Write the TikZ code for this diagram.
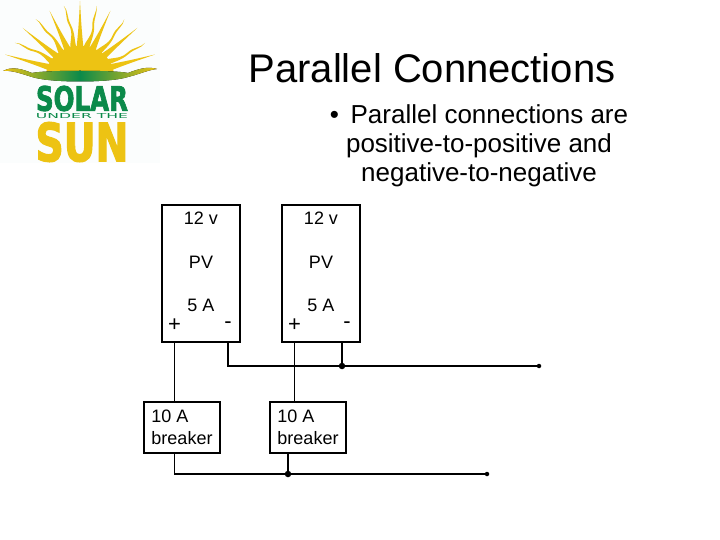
\documentclass[tikz,border=0pt]{standalone}
\usepackage{graphicx}
\usepackage{fontspec}
\setmainfont{Liberation Sans}
\newfontfamily\logofont{DejaVu Sans}
\newfontfamily\logoheavy[FakeBold=2.5]{DejaVu Sans Bold}
\usetikzlibrary{calc}
\definecolor{sunyellow}{HTML}{EDC313}
\definecolor{sungreen}{HTML}{0B8A4A}
\definecolor{logoback}{HTML}{FBFDFD}
\tikzset{
    every picture/.style={x=1pt,y=-1pt},
    panelbox/.style={draw,line width=1.7pt,minimum width=78pt,minimum height=137pt,inner sep=0pt},
    breakerbox/.style={draw,line width=1.7pt,minimum width=76pt,minimum height=51pt,inner sep=0pt,
        align=left,font=\fontsize{18}{22}\selectfont},
    boxlabel/.style={inner sep=0pt,font=\fontsize{18}{22}\selectfont},
    signlabel/.style={inner sep=0pt,font=\fontsize{22}{22}\selectfont},
    thinwire/.style={line width=0.9pt},
    thickwire/.style={line width=1.6pt},
    junction/.style={circle,fill=black,inner sep=0pt,minimum size=6.5pt},
    wireend/.style={circle,fill=black,inner sep=0pt,minimum size=4.5pt},
}
\newcommand{\straightray}[2]{%
    \fill[sunyellow,shift={(80,76)},rotate=#1] (-3.5,-28)
        .. controls (-1.6,-0.6*#2) and (-0.8,-0.8*#2) .. (0,-#2)
        .. controls (0.8,-0.8*#2) and (1.6,-0.6*#2) .. (3.5,-28) -- cycle;}
\newcommand{\wavyray}[2]{%
    \fill[sunyellow,shift={(80,76)},rotate=#1] (-3,-28)
        .. controls (-3,-0.5*#2) and (3.5,-0.58*#2) .. (0.8,-0.72*#2)
        .. controls (-1.8,-0.84*#2) and (2.5,-0.92*#2) .. (0,-#2)
        .. controls (3.4,-0.92*#2) and (0.2,-0.84*#2) .. (2.6,-0.72*#2)
        .. controls (5,-0.58*#2) and (2.2,-0.5*#2) .. (3,-28) -- cycle;}

\begin{document}
\begin{tikzpicture}
    \useasboundingbox (0,0) rectangle (720,540);
    \fill[white] (0,0) rectangle (720,540);

    % logo
    \fill[logoback] (0,0) rectangle (160,163);
    \straightray{0}{75}
    \foreach \ang/\len in {25/72,50/75,74/78,-25/72,-50/75,-74/78} {
        \straightray{\ang}{\len}
    }
    \foreach \ang/\len in {13/72,38/72,63/73,-13/72,-38/72,-63/73} {
        \wavyray{\ang}{\len}
    }
    \begin{scope}
        \clip (0,0) rectangle (160,76);
        \fill[sunyellow] (80,76) ellipse (34 and 30);
    \end{scope}
    \fill[left color=sunyellow,right color=sunyellow,middle color=sungreen]
        (3,71) .. controls (12,66) and (22,69) .. (32,73)
        .. controls (45,70) and (115,70) .. (128,73)
        .. controls (138,69) and (148,66) .. (157,69)
        .. controls (148,70) and (140,74) .. (128,77)
        .. controls (110,83) and (50,83) .. (32,77)
        .. controls (22,74) and (12,70) .. cycle;
    \node[inner sep=0pt,text=sungreen] (solar) at (82,98.5)
        {\resizebox{92pt}{25pt}{\logoheavy SOLAR}};
    \node[inner sep=0pt,text=sungreen] (under) at (82,116)
        {\resizebox{92pt}{5pt}{\logofont UNDER THE}};
    \node[inner sep=0pt,text=sunyellow] (sun) at (82,142)
        {\resizebox{93pt}{39pt}{\logoheavy SUN}};

    % title and text
    \node[inner sep=0pt,font=\fontsize{40}{44}\selectfont] (title) at (432,68) {Parallel Connections};
    \node[inner sep=0pt,align=center,font=\fontsize{26}{29}\selectfont] (bullet) at (479,146)
        {•\hspace{0.45em}Parallel connections are\\positive-to-positive and\\negative-to-negative};

    % panels
    \node[panelbox] (pvone) at (201,273.5) {};
    \node[panelbox] (pvtwo) at (321,273.5) {};
    \node[boxlabel] (voltone) at (201,218) {12 v};
    \node[boxlabel] (typeone) at (201,262) {PV};
    \node[boxlabel] (ampone) at (201,305) {5 A};
    \node[signlabel] (plusone) at (174.5,325) {+};
    \node[signlabel] (minusone) at (228,325) {-};
    \node[boxlabel] (volttwo) at (321,218) {12 v};
    \node[boxlabel] (typetwo) at (321,262) {PV};
    \node[boxlabel] (amptwo) at (321,305) {5 A};
    \node[signlabel] (plustwo) at (294.5,325) {+};
    \node[signlabel] (minustwo) at (347,325) {-};

    % breakers
    \node[breakerbox] (brkone) at (182,427.5) {10 A\\breaker};
    \node[breakerbox] (brktwo) at (308,427.5) {10 A\\breaker};

    % wiring
    \coordinate (negend) at (539,366);
    \coordinate (posend) at (487,474);
    \node[junction] (negjoin) at (342,366) {};
    \node[junction] (posjoin) at (288,474) {};
    \node[wireend] (negtip) at (negend) {};
    \node[wireend] (postip) at (posend) {};
    \draw[thinwire] (plusone |- pvone.south) -- (plusone |- brkone.north);
    \draw[thinwire] (plustwo |- pvtwo.south) -- (plustwo |- brktwo.north);
    \draw[thickwire] (minusone |- pvone.south) |- (negjoin.center) -- (negtip.center);
    \draw[thickwire] (negjoin |- pvtwo.south) -- (negjoin.center);
    \draw[thickwire] (plusone |- brkone.south) |- (posjoin.center) -- (postip.center);
    \draw[thickwire] (posjoin |- brktwo.south) -- (posjoin.center);
\end{tikzpicture}
\end{document}
